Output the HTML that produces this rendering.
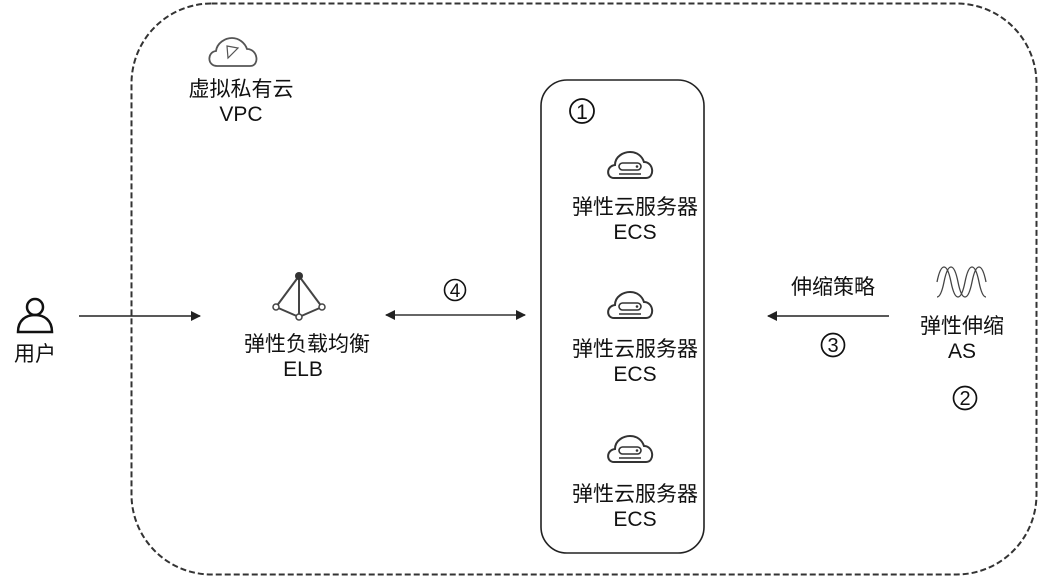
<!DOCTYPE html>
<html><head><meta charset="utf-8"><style>
html,body{margin:0;padding:0;background:#fff;width:1039px;height:577px;overflow:hidden}
text{font-family:"Liberation Sans","Noto Sans CJK SC",sans-serif;font-size:21px;fill:#111}
</style></head><body>
<svg width="1039" height="577" viewBox="0 0 1039 577" xmlns="http://www.w3.org/2000/svg">
<defs>
<marker id="ah" markerWidth="10" markerHeight="10" refX="9" refY="5" orient="auto" markerUnits="userSpaceOnUse">
<path d="M0,0 L10,5 L0,10 z" fill="#222"/></marker>
<marker id="as" markerWidth="10" markerHeight="10" refX="1" refY="5" orient="auto" markerUnits="userSpaceOnUse">
<path d="M10,0 L0,5 L10,10 z" fill="#222"/></marker>
<g id="ecs">
<path d="M-16,16 C-24,16 -24,4 -15,3 C-15,-6 -6,-10 0,-10 C7,-10 12,-6 14,0 C24,0 25,16 16,16 Z" fill="none" stroke="#333" stroke-width="2"/>
<rect x="-11" y="1" width="22" height="7" rx="3.5" fill="none" stroke="#333" stroke-width="1.6"/>
<circle cx="7" cy="4.5" r="1.3" fill="#333"/>
<line x1="-11" y1="12" x2="11" y2="12" stroke="#333" stroke-width="1.5"/>
</g>
</defs>
<rect x="131.5" y="3.5" width="905" height="571" rx="80" fill="none" stroke="#333" stroke-width="2" stroke-dasharray="6,3"/>
<rect x="541" y="80" width="163" height="473" rx="26" fill="none" stroke="#222" stroke-width="1.6"/>

<!-- VPC -->
<path d="M217,66 C207,66 207,52 216,51 C217,43 225,38 232,38 C239,38 245,43 247,49 C258,49 260,66 250,66 Z" fill="none" stroke="#555" stroke-width="1.8"/>
<path d="M227,46 L238,48 L228,58 Z" fill="none" stroke="#555" stroke-width="1.2"/>
<text x="241" y="96" text-anchor="middle">虚拟私有云</text>
<text x="241" y="121" text-anchor="middle">VPC</text>

<!-- user -->
<circle cx="35" cy="307" r="8" fill="none" stroke="#111" stroke-width="2.5"/>
<path d="M18,332 C18,320 26,315 35,315 C44,315 52,320 52,332 Z" fill="none" stroke="#111" stroke-width="2.5"/>
<text x="35" y="361" text-anchor="middle">用户</text>
<line x1="79" y1="316" x2="200" y2="316" stroke="#222" stroke-width="1.4" marker-end="url(#ah)"/>

<!-- ELB -->
<g stroke="#444" stroke-width="2" fill="none">
<line x1="299" y1="276" x2="276" y2="307"/>
<line x1="299" y1="276" x2="322" y2="307"/>
<line x1="299" y1="276" x2="299" y2="317"/>
<line x1="276" y1="307" x2="299" y2="317"/>
<line x1="322" y1="307" x2="299" y2="317"/>
</g>
<circle cx="299" cy="276" r="4" fill="#333"/>
<circle cx="276" cy="307" r="3" fill="#fff" stroke="#444" stroke-width="1.5"/>
<circle cx="322" cy="307" r="3" fill="#fff" stroke="#444" stroke-width="1.5"/>
<circle cx="299" cy="317" r="3" fill="#fff" stroke="#444" stroke-width="1.5"/>
<text x="307" y="351" text-anchor="middle">弹性负载均衡</text>
<text x="303" y="376" text-anchor="middle">ELB</text>

<!-- arrow 4 -->
<circle cx="455" cy="290" r="10.5" fill="none" stroke="#111" stroke-width="1.6"/>
<text x="455" y="297" text-anchor="middle" style="font-size:19px">4</text>
<line x1="386" y1="315" x2="525" y2="315" stroke="#333" stroke-width="1.4" marker-start="url(#as)" marker-end="url(#ah)"/>

<!-- ECS -->
<circle cx="582" cy="111" r="12" fill="none" stroke="#111" stroke-width="1.8"/>
<text x="582" y="119" text-anchor="middle" style="font-size:21px">1</text>
<use href="#ecs" x="630" y="162"/>
<text x="635" y="214" text-anchor="middle">弹性云服务器</text>
<text x="635" y="239" text-anchor="middle">ECS</text>
<use href="#ecs" x="630" y="302"/>
<text x="635" y="356" text-anchor="middle">弹性云服务器</text>
<text x="635" y="381" text-anchor="middle">ECS</text>
<use href="#ecs" x="630" y="446"/>
<text x="635" y="501" text-anchor="middle">弹性云服务器</text>
<text x="635" y="526" text-anchor="middle">ECS</text>

<!-- AS policy -->
<text x="833" y="294" text-anchor="middle">伸缩策略</text>
<line x1="889" y1="316" x2="768" y2="316" stroke="#222" stroke-width="1.4" marker-end="url(#ah)"/>
<circle cx="833" cy="345" r="11.5" fill="none" stroke="#111" stroke-width="1.7"/>
<text x="833" y="352" text-anchor="middle" style="font-size:20px">3</text>

<!-- AS -->
<g stroke="#444" stroke-width="1.3" fill="none">
<path d="M937,297 Q941,297 944,282 T951,267 T958,282 T965,297 T972,282 T979,267 T986,282"/>
<path d="M937,282 Q940,267 944,267 T951,282 T958,297 T965,282 T972,267 T979,282 T986,297"/>
</g>
<text x="962" y="333" text-anchor="middle">弹性伸缩</text>
<text x="962" y="358" text-anchor="middle">AS</text>
<circle cx="965" cy="398" r="11.5" fill="none" stroke="#111" stroke-width="1.7"/>
<text x="965" y="405" text-anchor="middle" style="font-size:20px">2</text>
</svg>
</body></html>
